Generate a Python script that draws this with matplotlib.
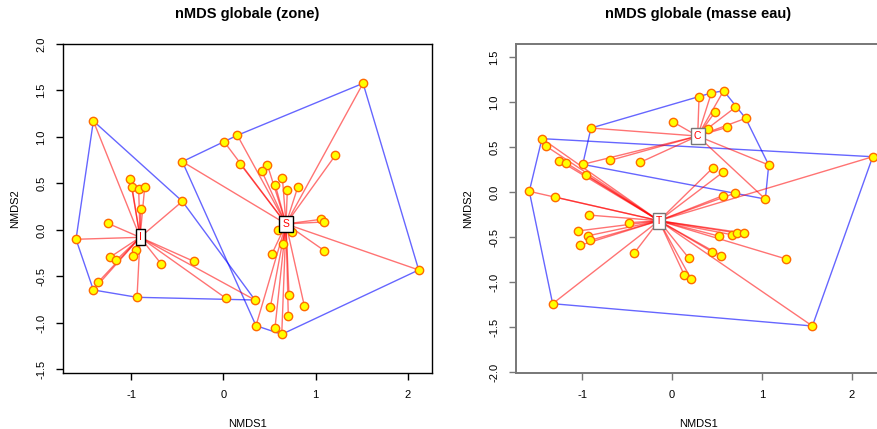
import numpy as np
import matplotlib
matplotlib.use("Agg")
import matplotlib.pyplot as plt

plt.rcParams['font.family'] = ['Liberation Sans', 'DejaVu Sans']
plt.rcParams['axes.unicode_minus'] = False

# --- nMDS globale (zone) ---
zone_I_x = [-1.408, -1.008, -0.989, -0.917, -0.852, -0.895, -1.252, -1.596, -0.946, -0.978,
            -1.224, -1.162, -0.672, -0.321, -1.354, -1.408, -0.935, 0.029, 0.343, -0.444]
zone_I_y = [1.172, 0.548, 0.459, 0.441, 0.459, 0.226, 0.072, -0.100, -0.215, -0.283,
            -0.290, -0.326, -0.366, -0.337, -0.559, -0.645, -0.724, -0.735, -0.753, 0.308]
zone_S_x = [1.514, 0.008, 0.152, 0.181, 0.477, 0.416, 0.640, 0.564, 0.694, 0.806, 1.214, -0.444,
            1.062, 1.088, 0.589, 0.748, 0.643, 0.528, 1.094, 2.117, 0.712, 0.878, 0.509, 0.704,
            0.354, 0.560, 0.633]
zone_S_y = [1.577, 0.950, 1.018, 0.713, 0.702, 0.634, 0.563, 0.480, 0.430, 0.459, 0.803, 0.735,
            0.115, 0.086, 0.000, -0.022, -0.154, -0.255, -0.222, -0.430, -0.702, -0.817, -0.832,
            -0.925, -1.029, -1.050, -1.122]
zone_labels = ["I", "S"]
zone_cent_x = [-0.902, 0.679]
zone_cent_y = [-0.079, 0.065]

# --- nMDS globale (masse eau) ---
eau_C_x = [0.301, 0.438, 0.575, 0.482, 0.705, 0.820, 0.612, 0.405, 0.008, -0.902, 1.077, 1.039,
           -0.994, -0.687, -0.353]
eau_C_y = [1.057, 1.105, 1.130, 0.897, 0.945, 0.823, 0.723, 0.704, 0.785, 0.715, 0.304, -0.075,
           0.311, 0.356, 0.334]
eau_T_x = [-1.448, -1.400, -1.255, -1.177, -0.954, 0.453, 0.565, -1.589, -1.303, 0.565, 0.705,
           2.235, -0.924, -0.479, -1.050, -0.932, -0.910, -1.024, -0.420, 0.189, 0.137, 0.215,
           0.449, 0.549, 0.520, 0.668, 0.727, 0.802, 1.273, 1.563, -1.329]
eau_T_y = [0.597, 0.512, 0.352, 0.326, 0.196, 0.270, 0.222, 0.011, -0.052, -0.038, -0.008,
           0.396, -0.253, -0.338, -0.430, -0.483, -0.534, -0.590, -0.675, -0.734, -0.920, -0.968,
           -0.664, -0.705, -0.486, -0.472, -0.453, -0.453, -0.742, -1.487, -1.239]
eau_labels = ["C", "T"]
eau_cent_x = [0.286, -0.145]
eau_cent_y = [0.626, -0.316]

hull_col = (0.0, 0.0, 1.0, 0.6)
spider_col = (1.0, 0.0, 0.0, 0.55)


def convex_hull(xs, ys):
    pts = sorted(set(zip(xs, ys)))

    def cross(o, a, b):
        return (a[0] - o[0]) * (b[1] - o[1]) - (a[1] - o[1]) * (b[0] - o[0])

    lower = []
    for p in pts:
        while len(lower) >= 2 and cross(lower[-2], lower[-1], p) <= 0:
            lower.pop()
        lower.append(p)
    upper = []
    for p in reversed(pts):
        while len(upper) >= 2 and cross(upper[-2], upper[-1], p) <= 0:
            upper.pop()
        upper.append(p)
    h = lower[:-1] + upper[:-1]
    h.append(h[0])
    return np.array(h)


def draw_panel(ax, groups, labels, cx, cy, edge):
    # enveloppes convexes
    for (gx, gy) in groups:
        h = convex_hull(gx, gy)
        ax.plot(h[:, 0], h[:, 1], color=hull_col, lw=1.0, zorder=1)
    # araignees vers le centroide
    for (gx, gy), x0, y0 in zip(groups, cx, cy):
        for x, y in zip(gx, gy):
            ax.plot([x0, x], [y0, y], color=spider_col, lw=1.0, zorder=2)
    for (gx, gy) in groups:
        ax.scatter(gx, gy, s=36, facecolor='#FFFF00', edgecolor='#FF6A00', lw=1.0, zorder=3)
    for lab, x0, y0 in zip(labels, cx, cy):
        ax.text(x0, y0, lab, color='red', fontsize=7.5, ha='center', va='center', zorder=4,
                bbox=dict(boxstyle='square,pad=0.3', fc='white', ec=edge, lw=1.0))


fig = plt.figure(figsize=(8.77, 4.29), dpi=100)
H = 429.0
W = 877.0

ax1 = fig.add_axes([63 / W, (H - 373) / H, 369 / W, 329 / H])
draw_panel(ax1, [(zone_I_x, zone_I_y), (zone_S_x, zone_S_y)], zone_labels,
           zone_cent_x, zone_cent_y, 'black')
ax1.set_xlim(-1.737, 2.261)
ax1.set_ylim(-1.538, 2.0)
ax1.set_xticks([-1, 0, 1, 2])
ax1.set_yticks([-1.5, -1.0, -0.5, 0.0, 0.5, 1.0, 1.5, 2.0])
ax1.set_title("nMDS globale (zone)", fontsize=10.5, fontweight='bold', pad=19)

ax2 = fig.add_axes([516 / W, (H - 373) / H, 364 / W, 329 / H])
draw_panel(ax2, [(eau_C_x, eau_C_y), (eau_T_x, eau_T_y)], eau_labels,
           eau_cent_x, eau_cent_y, '#777777')
ax2.set_xlim(-1.737, 2.316)
ax2.set_ylim(-2.01, 1.65)
ax2.set_xticks([-1, 0, 1, 2])
ax2.set_yticks([-2.0, -1.5, -1.0, -0.5, 0.0, 0.5, 1.0, 1.5])
ax2.set_title("nMDS globale (masse eau)", fontsize=10.5, fontweight='bold', pad=19)

for ax, c in [(ax1, 'black'), (ax2, '#777777')]:
    for sp in ax.spines.values():
        sp.set_color(c)
        sp.set_linewidth(1.0 if c == 'black' else 1.4)
    ax.tick_params(direction='out', length=5, width=1, color=c, labelsize=8, pad=7)
    for t in ax.get_yticklabels():
        t.set_rotation(90)
        t.set_va('center')
    ax.set_xlabel("NMDS1", fontsize=8, labelpad=14)
    ax.set_ylabel("NMDS2", fontsize=8, labelpad=12)

fig.savefig("out.png", dpi=100)
